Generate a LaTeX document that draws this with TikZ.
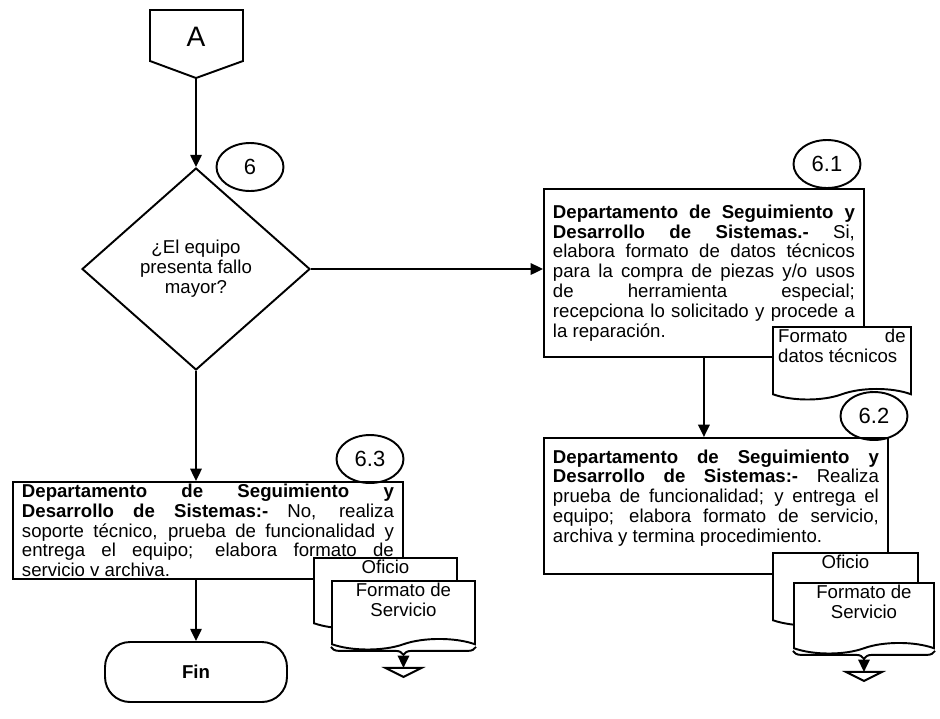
\documentclass[tikz,border=0pt]{standalone}
\usepackage{fontspec}
\setmainfont{Liberation Sans}
\usetikzlibrary{arrows.meta, positioning, calc, shapes.geometric, shapes.symbols, decorations.pathreplacing}
% text block of a document symbol (#1 height, #2 width)
\newcommand{\docbody}[3]{\parbox[c][#1][t]{#2}{\vspace{1pt}#3}}
\tikzset{
  % activity box with justified text
  proc/.style={
    rectangle, draw=black, line width=1.1pt, fill=white,
    anchor=north west, inner xsep=5pt, inner ysep=1pt,
    align=justify,
    font=\fontsize{10.6}{11.3}\selectfont,
  },
  % step number
  tag/.style={
    ellipse, draw=black, line width=1.1pt,
    minimum width=1.34cm, minimum height=0.96cm, inner sep=0pt,
    font=\fontsize{12.5}{14}\selectfont,
  },
  decision/.style={
    diamond, draw=black, line width=1.1pt,
    minimum width=4.56cm, minimum height=4.04cm, inner sep=0pt,
    align=center, font=\fontsize{10.6}{11.4}\selectfont,
  },
  % document symbol, wavy bottom
  docsheet/.style={
    tape, tape bend top=none, tape bend bottom=in and out,
    tape bend height=6pt,
    draw=black, line width=1.1pt, fill=white,
    anchor=north west, inner xsep=3pt, inner ysep=0pt,
    font=\fontsize{10.6}{11.4}\selectfont,
  },
  terminal/.style={
    rectangle, rounded corners=0.5cm, draw=black, line width=1.1pt,
    minimum width=3.64cm, minimum height=1.2cm,
    font=\bfseries\fontsize{10.6}{12}\selectfont,
  },
  % arrows and plain lines
  flow/.style={-{Triangle[length=7pt, width=6.5pt]}, line width=1.1pt},
  outline/.style={line width=1.1pt, draw=black},
  bracket/.style={decorate, decoration={brace, mirror, amplitude=4.5pt}, line width=1.1pt},
}

\begin{document}
\begin{tikzpicture}[x=0.02cm, y=-0.02cm]
  \useasboundingbox (0,0) rectangle (940,718);

  % off-page connector
  \node[font=\fontsize{16}{18}\selectfont] (conA) at (196,37) {A};
  \draw[outline] (150,10) -- (243,10) -- (243,61) -- (196,78) -- (150,61) -- cycle;
  \coordinate (conAtip) at (196,78);

  % decision 6
  \node[decision] (dec6) at (196,269) {¿El equipo\\presenta fallo\\mayor?};
  \node[tag] (n6) at (250,167) {6};
  \draw[flow] (conAtip) -- (dec6.north);

  % yes branch -- 6.1 and 6.2
  \node[proc, minimum width=6.4cm, minimum height=3.36cm, text width=6.04cm] (task61) at (543,188) {%
    \textbf{Departamento de Seguimiento y}\linebreak
    \textbf{Desarrollo de Sistemas.-} Si,\linebreak
    elabora formato de datos técnicos\linebreak
    para la compra de piezas y/o usos\linebreak
    de herramienta especial;\linebreak
    recepciona lo solicitado y procede a\linebreak
    la reparación.};
  \node[tag] (n61) at (827,164) {6.1};
  \node[docsheet, minimum width=2.76cm] (ft61) at (772,326) {%
    \docbody{1.24cm}{2.55cm}{Formato\hfill de\linebreak datos técnicos}};

  \node[proc, minimum width=6.88cm, minimum height=2.72cm, text width=6.52cm] (task62) at (543,437) {%
    \textbf{Departamento de Seguimiento y}\linebreak
    \textbf{Desarrollo de Sistemas:-} Realiza\linebreak
    prueba de funcionalidad; y entrega el\linebreak
    equipo; elabora formato de servicio,\linebreak
    archiva y termina procedimiento.\par\rule{0pt}{4pt}};
  \node[tag] (n62) at (874,416) {6.2};

  \draw[flow] (dec6.east) -- (dec6.east -| task61.west);
  \draw[flow] (task61.south) -- (task61.south |- task62.north);

  % no branch -- 6.3
  \node[proc, minimum width=7.8cm, minimum height=1.94cm, text width=7.44cm] (task63) at (12,481) {%
    \textbf{Departamento de Seguimiento y}\linebreak
    \textbf{Desarrollo de Sistemas:-} No, realiza\linebreak
    soporte técnico, prueba de funcionalidad y\linebreak
    entrega el equipo; elabora formato de\linebreak
    servicio v archiva.};
  \node[tag] (n63) at (370,459) {6.3};
  \node[terminal] (fin) at (196,672) {Fin};

  \draw[flow] (dec6.south) -- (dec6.south |- task63.north);
  \draw[flow] (dec6.south |- task63.south) -- (fin.north);

  % output documents of 6.3
  \node[docsheet, minimum width=2.86cm] (ofi63) at (313,557) {%
    \docbody{1.2cm}{2.65cm}{\centering Oficio}};
  \node[docsheet, minimum width=2.86cm] (fs63) at (331,580) {%
    \docbody{1.16cm}{2.65cm}{\centering Formato de\\Servicio}};
  \coordinate (brL63) at ($(fs63.south west)+(0,7)$);
  \coordinate (brR63) at ($(fs63.south east)+(0,7)$);
  \draw[bracket] (brL63) -- (brR63);
  \coordinate (tip63) at ($(brL63)!0.5!(brR63)+(0,8)$);
  \coordinate (bin63) at ($(tip63)+(0,13)$);
  \draw[outline, fill=white] (bin63) ++(-18,0) -- ++(36,0) -- ++(-18,9) -- cycle;
  \draw[flow] (tip63) -- (bin63);

  % output documents of 6.2
  \node[docsheet, minimum width=2.9cm] (ofi62) at (772,552) {%
    \docbody{1.24cm}{2.69cm}{\centering Oficio}};
  \node[docsheet, minimum width=2.8cm] (fs62) at (793,582) {%
    \docbody{1.2cm}{2.59cm}{\centering Formato de\\Servicio}};
  \coordinate (brL62) at ($(fs62.south west)+(0,7)$);
  \coordinate (brR62) at ($(fs62.south east)+(0,7)$);
  \draw[bracket] (brL62) -- (brR62);
  \coordinate (tip62) at ($(brL62)!0.5!(brR62)+(0,8)$);
  \coordinate (bin62) at ($(tip62)+(0,13)$);
  \draw[outline, fill=white] (bin62) ++(-18,0) -- ++(36,0) -- ++(-18,9) -- cycle;
  \draw[flow] (tip62) -- (bin62);

\end{tikzpicture}
\end{document}
